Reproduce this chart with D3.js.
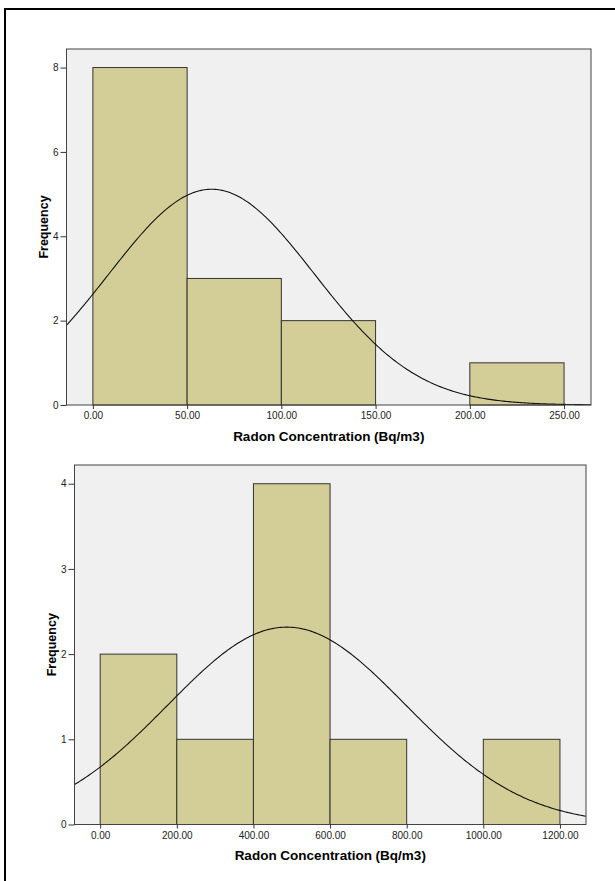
<!DOCTYPE html>
<html>
<head>
    <title>Radon Concentration Histograms</title>
    <script src="https://d3js.org/d3.v7.min.js"></script>
    <style>
        body {
            margin: 0;
            background: #fff;
            font-family: Arial, "Liberation Sans", sans-serif;
        }
        .tick text {
            font-size: 10px;
            fill: #222;
        }
        .tick line {
            stroke: #333;
        }
        .axis-title {
            font-weight: bold;
            fill: #000;
        }
    </style>
</head>
<body>
    <svg id="canvas" width="615" height="881"></svg>

    <script>
        // top histogram
        const binEdges1 = [0, 50, 100, 150, 200, 250];
        const counts1 = [8, 3, 2, 0, 1];
        const xTicks1 = [0, 50, 100, 150, 200, 250];
        const yTicks1 = [0, 2, 4, 6, 8];
        const normal1 = { mean: 63, sd: 54.6, n: 14 };

        // bottom histogram
        const binEdges2 = [0, 200, 400, 600, 800, 1000, 1200];
        const counts2 = [2, 1, 4, 1, 0, 1];
        const xTicks2 = [0, 200, 400, 600, 800, 1000, 1200];
        const yTicks2 = [0, 1, 2, 3, 4];
        const normal2 = { mean: 487, sd: 310, n: 9 };

        const xTitle = 'Radon Concentration (Bq/m3)';
        const yTitle = 'Frequency';

        const svg = d3.select('#canvas');

        // outer frame (runs off the right and bottom of the picture)
        svg.append('rect')
            .attr('x', 5)
            .attr('y', 9)
            .attr('width', 700)
            .attr('height', 1000)
            .attr('fill', 'none')
            .attr('stroke', '#000')
            .attr('stroke-width', 2);

        function drawHistogram(cfg) {
            const { left, right, top, bottom, xDomain, yDomain,
                    edges, counts, xTicks, yTicks, normal } = cfg;

            const x = d3.scaleLinear().domain(xDomain).range([left, right]);
            const y = d3.scaleLinear().domain(yDomain).range([bottom, top]);

            const g = svg.append('g');

            // plot background
            g.append('rect')
                .attr('x', left)
                .attr('y', top)
                .attr('width', right - left)
                .attr('height', bottom - top)
                .attr('fill', '#f0f0f0');

            // bars
            const bins = counts.map((c, i) => ({ x0: edges[i], x1: edges[i + 1], count: c }))
                .filter(d => d.count > 0);

            g.selectAll('rect.bar')
                .data(bins)
                .enter()
                .append('rect')
                .attr('class', 'bar')
                .attr('x', d => x(d.x0))
                .attr('y', d => y(d.count))
                .attr('width', d => x(d.x1) - x(d.x0))
                .attr('height', d => y(0) - y(d.count))
                .attr('fill', '#d3ce97')
                .attr('stroke', '#333')
                .attr('stroke-width', 1);

            // fitted normal curve, scaled to counts
            const binWidth = edges[1] - edges[0];
            const scaleK = normal.n * binWidth / (normal.sd * Math.sqrt(2 * Math.PI));
            const pts = d3.range(xDomain[0], xDomain[1], (xDomain[1] - xDomain[0]) / 300)
                .concat([xDomain[1]])
                .map(v => [v, scaleK * Math.exp(-0.5 * Math.pow((v - normal.mean) / normal.sd, 2))]);

            g.append('path')
                .datum(pts)
                .attr('d', d3.line().x(d => x(d[0])).y(d => y(d[1])))
                .attr('fill', 'none')
                .attr('stroke', '#111')
                .attr('stroke-width', 1.1);

            // frame
            g.append('rect')
                .attr('x', left)
                .attr('y', top)
                .attr('width', right - left)
                .attr('height', bottom - top)
                .attr('fill', 'none')
                .attr('stroke', '#444')
                .attr('stroke-width', 1);

            // axes
            const xAxis = g.append('g')
                .attr('transform', `translate(0,${bottom})`)
                .call(d3.axisBottom(x).tickValues(xTicks).tickFormat(d3.format('.2f'))
                    .tickSize(4).tickPadding(3));
            xAxis.select('.domain').remove();

            const yAxis = g.append('g')
                .attr('transform', `translate(${left},0)`)
                .call(d3.axisLeft(y).tickValues(yTicks).tickFormat(d3.format('d'))
                    .tickSize(6).tickPadding(2));
            yAxis.select('.domain').remove();
            yAxis.selectAll('.tick text').attr('font-size', 9);

            // titles
            g.append('text')
                .attr('class', 'axis-title')
                .attr('font-size', 13.5)
                .attr('x', (left + right) / 2)
                .attr('y', bottom + 31)
                .attr('text-anchor', 'middle')
                .attr('dominant-baseline', 'central')
                .text(xTitle);

            g.append('text')
                .attr('class', 'axis-title')
                .attr('font-size', 12.5)
                .attr('transform', `translate(${left - 23},${(top + bottom) / 2}) rotate(-90)`)
                .attr('text-anchor', 'middle')
                .attr('dominant-baseline', 'central')
                .text(yTitle);
        }

        drawHistogram({
            left: 66.5, right: 591, top: 49, bottom: 405,
            xDomain: [-14, 264.3], yDomain: [0, 8.44],
            edges: binEdges1, counts: counts1,
            xTicks: xTicks1, yTicks: yTicks1, normal: normal1
        });

        drawHistogram({
            left: 74.5, right: 586, top: 465, bottom: 824.5,
            xDomain: [-67, 1268], yDomain: [0, 4.22],
            edges: binEdges2, counts: counts2,
            xTicks: xTicks2, yTicks: yTicks2, normal: normal2
        });
    </script>
</body>
</html>
